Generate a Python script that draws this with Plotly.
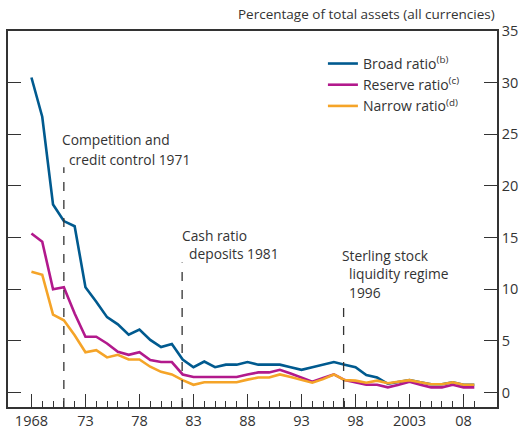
import plotly.graph_objects as go

YEARS = list(range(1968, 2010))

BROAD = [30.5, 26.7, 18.2, 16.6, 16.1, 10.2, 8.8, 7.3, 6.6, 5.6,
         6.1, 5.1, 4.4, 4.7, 3.2, 2.45, 3.0, 2.45, 2.7, 2.7,
         2.95, 2.7, 2.7, 2.7, 2.45, 2.2, 2.45, 2.7, 2.95, 2.7,
         2.45, 1.7, 1.45, 0.85, 1.05, 1.2, 1.0, 0.8, 0.8, 1.0,
         0.75, 0.75]
RESERVE = [15.4, 14.6, 10.0, 10.2, 7.65, 5.4, 5.4, 4.75, 3.95, 3.65,
           3.9, 3.15, 2.95, 2.95, 1.75, 1.5, 1.5, 1.5, 1.5, 1.5,
           1.75, 1.95, 1.95, 2.2, 1.85, 1.45, 1.05, 1.4, 1.75, 1.2,
           1.0, 0.75, 0.75, 0.5, 0.75, 1.05, 0.75, 0.5, 0.5, 0.75,
           0.5, 0.5]
NARROW = [11.7, 11.4, 7.55, 7.0, 5.55, 3.9, 4.1, 3.4, 3.65, 3.2,
          3.2, 2.5, 2.0, 1.75, 1.2, 0.75, 1.0, 1.0, 1.0, 1.0,
          1.25, 1.45, 1.45, 1.75, 1.5, 1.2, 0.95, 1.3, 1.75, 1.2,
          1.15, 0.95, 1.15, 0.9, 1.05, 1.2, 1.0, 0.8, 0.8, 1.0,
          0.75, 0.75]

TICK_YEARS = [1968, 1973, 1978, 1983, 1988, 1993, 1998, 2003, 2008]
TICK_TEXT = ["1968", "73", "78", "83", "88", "93", "98", "2003", "08"]
Y_TICKS = [0, 5, 10, 15, 20, 25, 30, 35]

# policy events: (year, top of dashed line, text lines)
EVENTS = [
    (1971.0, 21.8, [("Competition and", 1970.62, 24.5), ("credit control 1971", 1971.33, 22.6)]),
    (1981.95, 12.6, [("Cash ratio", 1981.73, 15.2), ("deposits 1981", 1982.41, 13.44)]),
    (1996.9, 8.2, [("Sterling stock", 1996.55, 13.25), ("liquidity regime", 1997.22, 11.5),
                   ("1996", 1997.22, 9.64)]),
]

INK = "#333333"
FONT = "Open Sans"
Y_MIN, Y_MAX = -1.4, 35.0

fig = go.Figure()
series = [
    ("Broad ratio<sup>(b)</sup>", BROAD, "#005a8f"),
    ("Reserve ratio<sup>(c)</sup>", RESERVE, "#b2198c"),
    ("Narrow ratio<sup>(d)</sup>", NARROW, "#f5a428"),
]
for name, values, color in series:
    fig.add_trace(go.Scatter(x=YEARS, y=values, name=name, mode="lines",
                             line=dict(color=color, width=2.6)))

for x, top, texts in EVENTS:
    fig.add_shape(type="line", xref="x", yref="y", x0=x, x1=x, y0=Y_MIN, y1=top,
                  line=dict(color=INK, width=1.3, dash="dash"))
    for text, tx, ty in texts:
        fig.add_annotation(x=tx, y=ty, xref="x", yref="y", text=text, showarrow=False,
                           xanchor="left", yanchor="middle", font=dict(size=13.8, color=INK))

fig.add_annotation(x=1, y=1.045, xref="paper", yref="paper", showarrow=False,
                   text="Percentage of total assets (all currencies)",
                   xanchor="right", yanchor="middle", font=dict(size=13.5, color=INK))

fig.update_layout(
    width=525, height=431,
    margin=dict(l=8, r=28, t=31, b=24, autoexpand=False),
    paper_bgcolor="white", plot_bgcolor="white",
    font=dict(family=FONT, size=14, color=INK),
    showlegend=True,
    legend=dict(x=0.644, y=0.955, xanchor="left", yanchor="top",
                bgcolor="rgba(0,0,0,0)", font=dict(size=14, color=INK),
                tracegroupgap=0),
)
fig.update_xaxes(
    range=[1965.83, 2011.1], showgrid=False, zeroline=False, automargin=False,
    showline=True, linecolor=INK, linewidth=1.5, mirror=True,
    tickmode="array", tickvals=TICK_YEARS, ticktext=TICK_TEXT,
    ticks="inside", ticklen=13, tickwidth=1.3, tickcolor=INK,
    tickfont=dict(size=14.5, color=INK),
    minor=dict(tickmode="array", tickvals=YEARS, ticks="inside", ticklen=6,
               tickwidth=1.3, tickcolor=INK, showgrid=False),
)
fig.update_yaxes(
    range=[Y_MIN, Y_MAX], side="right", showgrid=False, zeroline=False, automargin=False,
    showline=True, linecolor=INK, linewidth=1.5, mirror="ticks",
    tickmode="array", tickvals=Y_TICKS, ticktext=[str(v) for v in Y_TICKS],
    ticks="inside", ticklen=13, tickwidth=1.3, tickcolor=INK,
    ticklabeloverflow="allow", tickfont=dict(size=14.5, color=INK),
)

# drop the browser's default body margin so the 525x431 figure fills the window
fig.write_html("out.html", config={"displayModeBar": False},
               post_script="document.body.style.margin='0';document.body.style.overflow='hidden';")
